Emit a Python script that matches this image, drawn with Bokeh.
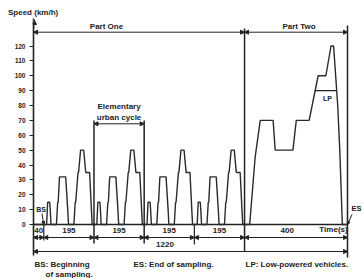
import numpy as np
from bokeh.plotting import figure
from bokeh.models import Range1d, FixedTicker, Arrow, NormalHead, Label
from bokeh.embed import file_html
from bokeh.resources import INLINE

# ---------------- data ----------------
segment_labels = ["40", "195", "195", "195", "195", "400"]
segment_durations = [40, 195, 195, 195, 195, 400]
total_label = "1220"
part_labels = ["Part One", "Part Two"]

# elementary urban cycle (s, km/h)
ece_time = [0, 11, 15, 23, 25, 28, 49, 54, 56, 61, 85, 93, 96, 117, 122, 124,
            133, 135, 143, 155, 163, 176, 178, 185, 188, 195]
ece_speed = [0, 0, 15, 15, 10, 0, 0, 15, 15, 32, 32, 10, 0, 0, 15, 15,
             35, 35, 50, 50, 35, 35, 35, 10, 0, 0]
# extra-urban cycle (s, km/h)
eudc_time = [0, 20, 41, 61, 111, 119, 188, 201, 251, 286,
             316, 336, 346, 362, 370, 380, 400]
eudc_speed = [0, 0, 45, 70, 70, 50, 50, 70, 70, 100,
              100, 120, 120, 80, 50, 0, 0]
lp_speed = 90
y_ticks = list(range(0, 130, 10))

# ---------------- layout helpers (screen px) ----------------
INK = "#222222"
FONT = "Liberation Sans"
X0 = 33.0                 # px of t = 0
PX_PER_S = 314.0 / 1220.0
Y0 = 224.0                # px of 0 km/h
PX_PER_KMH = 1.4875
W, H = 363, 278
TOP = 18                  # px above the frame (title band)


def tx(px):
    return (px - X0) / PX_PER_S


def vy(py):
    return (Y0 - py) / PX_PER_KMH


bounds = np.concatenate([[0], np.cumsum(segment_durations)])

# ---------------- build speed trace ----------------
t_all = [0.0, float(bounds[1])]
v_all = [0.0, 0.0]
for k in range(4):
    start = bounds[k + 1]
    t_all += [start + t for t in ece_time]
    v_all += ece_speed
t_all += [bounds[5] + t for t in eudc_time]
v_all += eudc_speed


def crossings(ts, vs, level):
    out = []
    for i in range(len(ts) - 1):
        a, b = vs[i], vs[i + 1]
        if (a - level) * (b - level) < 0:
            out.append(ts[i] + (level - a) * (ts[i + 1] - ts[i]) / (b - a))
    return out


lp_x = [bounds[5] + c for c in crossings(eudc_time, eudc_speed, lp_speed)]

# ---------------- figure ----------------
p = figure(width=W, height=H, output_backend="svg", toolbar_location=None,
           x_range=Range1d(0, tx(W)), y_range=Range1d(vy(H), vy(TOP)),
           x_axis_type=None, min_border_left=int(X0), min_border_right=0,
           min_border_top=TOP, min_border_bottom=0,
           title="Speed (km/h)")
p.outline_line_color = None
p.grid.visible = False
p.background_fill_color = "white"
p.border_fill_color = "white"

p.title.align = "left"
p.title.offset = 7.5 - X0
p.title.standoff = 4
p.title.text_font = FONT
p.title.text_font_size = "8px"
p.title.text_font_style = "bold"
p.title.text_color = INK

ax = p.yaxis[0]
ax.ticker = FixedTicker(ticks=y_ticks)
ax.bounds = (vy(255), vy(22))
ax.axis_line_width = 1.6
ax.axis_line_color = INK
ax.major_tick_in = 0
ax.major_tick_out = 4
ax.major_tick_line_color = INK
ax.minor_tick_line_color = None
ax.major_label_text_font = FONT
ax.major_label_text_font_size = "6.5px"
ax.major_label_text_font_style = "bold"
ax.major_label_text_color = INK
ax.major_label_standoff = 4


def text(txt, x, y, align="center", size="8px"):
    p.add_layout(Label(x=x, y=y, text=txt, text_align=align,
                       text_baseline="middle", text_font=FONT,
                       text_font_size=size, text_font_style="bold",
                       text_color=INK))


def head(size=4):
    return NormalHead(size=size, line_color=INK, fill_color=INK, line_width=1)


def dim(x0, x1, y):
    p.add_layout(Arrow(x_start=x0, y_start=y, x_end=x1, y_end=y,
                       start=head(), end=head(), line_color=INK, line_width=1))


# y-axis arrow head
p.add_layout(Arrow(x_start=0, y_start=vy(28), x_end=0, y_end=vy(18),
                   end=head(6), line_color=INK, line_width=1.6))

# baseline
p.line([0, bounds[-1]], [0, 0], line_color=INK, line_width=1.4)

# speed trace
p.line(t_all, v_all, line_color="#2a2a2a", line_width=1.4)

# LP line
p.line(lp_x, [lp_speed, lp_speed], line_color=INK, line_width=1.2)
text("LP", tx(327), vy(97.5), size="7px")

# tall vertical lines
p.segment(x0=[bounds[5], bounds[6]], y0=[vy(251), vy(257)],
          x1=[bounds[5], bounds[6]], y1=[vy(28), vy(25)],
          line_color=INK, line_width=1.5)
p.segment(x0=[bounds[2], bounds[3]], y0=[vy(243), vy(243)],
          x1=[bounds[2], bounds[3]], y1=[vy(120), vy(120)],
          line_color=INK, line_width=1.5)
# short boundary ticks
p.segment(x0=[bounds[1], bounds[4]], y0=[vy(240), vy(244)],
          x1=[bounds[1], bounds[4]], y1=[0, 0],
          line_color=INK, line_width=1.2)

# Part One / Part Two
dim(bounds[0], bounds[5], vy(31.7))
dim(bounds[5], bounds[6], vy(31.7))
text(part_labels[0], tx(106), vy(25.5))
text(part_labels[1], tx(298.5), vy(25.5))

# elementary urban cycle
dim(bounds[2], bounds[3], vy(123.3))
mid2 = (bounds[2] + bounds[3]) / 2
text("Elementary", mid2, vy(106))
text("urban cycle", mid2, vy(116.5))

# row of segment durations
label_shift = [0, 0, 0, 0, 0, -34]
for i, lab in enumerate(segment_labels):
    dim(bounds[i], bounds[i + 1], vy(237))
    mid = (bounds[i] + bounds[i + 1]) / 2
    text(lab, mid + label_shift[i], vy(229.5))
text("Time(s)", tx(333), vy(229.3))

# total
dim(bounds[0], bounds[-1], vy(251))
text(total_label, tx(164.5), vy(243.5))

# BS / ES markers
text("BS", tx(40.5), vy(208.5), size="7px")
p.add_layout(Arrow(x_start=tx(41.5), y_start=vy(213), x_end=bounds[1], y_end=0,
                   end=head(3), line_color=INK, line_width=1))
text("ES", tx(351), vy(208), align="left", size="7.5px")
p.add_layout(Arrow(x_start=tx(351.5), y_start=vy(214), x_end=bounds[-1], y_end=0,
                   end=head(3), line_color=INK, line_width=1))

# legend notes
text("BS: Beginning", tx(34), vy(263.7), align="left")
text("of sampling.", tx(45), vy(273.5), align="left")
text("ES: End of sampling.", tx(133), vy(263.7), align="left")
text("LP: Low-powered vehicles.", tx(245), vy(263.7), align="left")

open("out.html", "w").write(file_html(p, INLINE, "NEDC"))
